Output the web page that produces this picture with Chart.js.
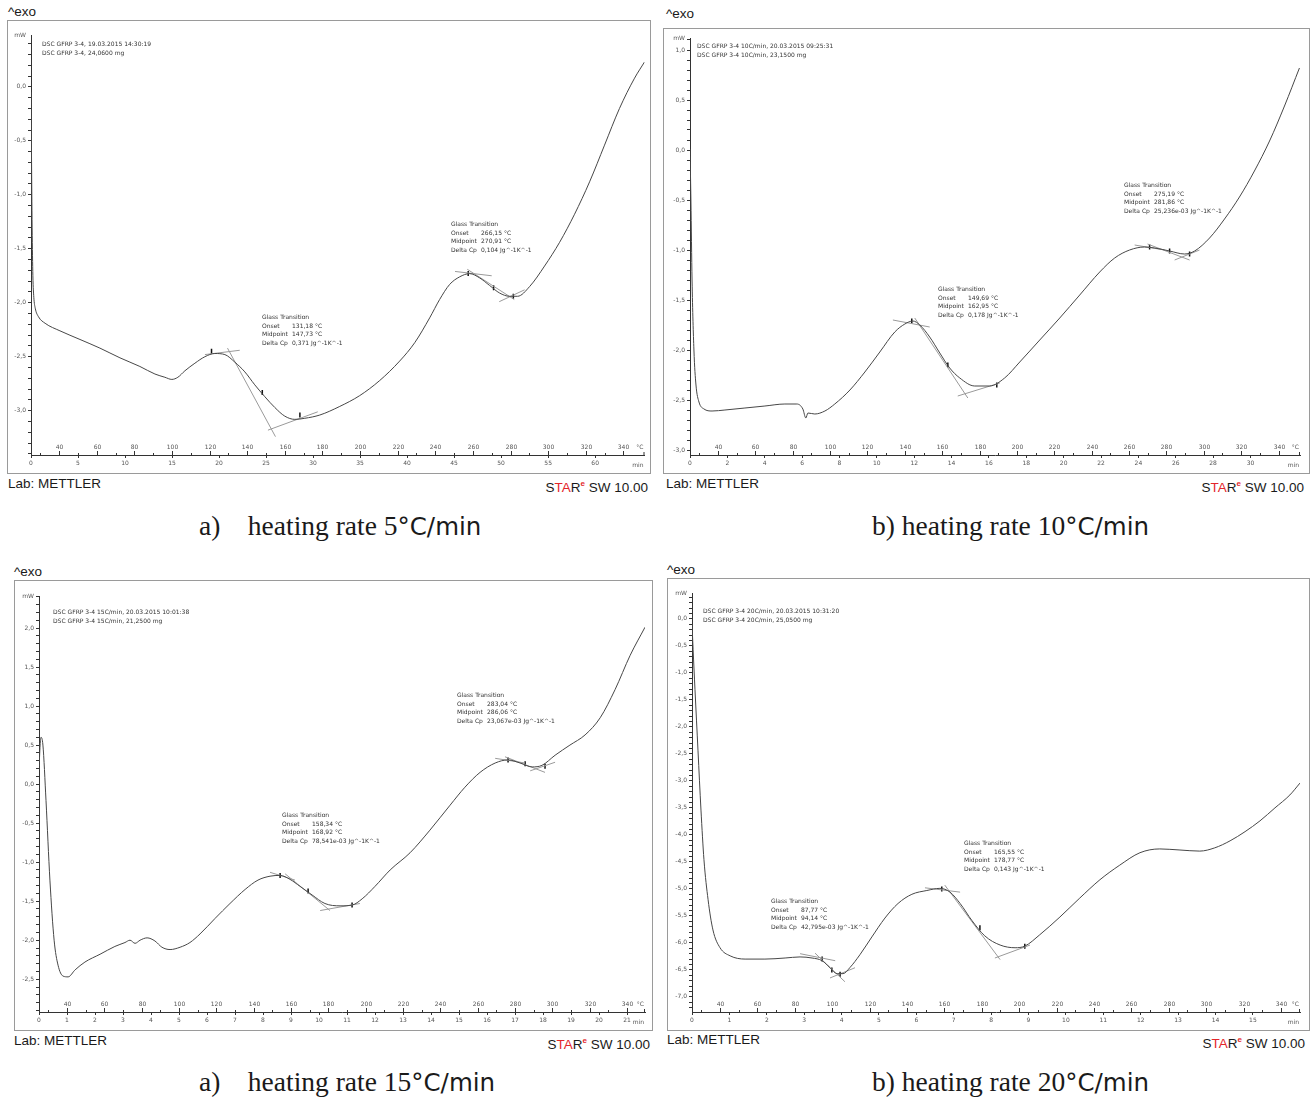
<!DOCTYPE html>
<html>
<head>
<meta charset="utf-8">
<script src="https://cdn.jsdelivr.net/npm/chart.js@4.4.1/dist/chart.umd.min.js"></script>
<style>
  body { margin:0; background:#fff; width:1316px; height:1100px; position:relative; overflow:hidden;
         font-family:"Liberation Sans", Arial, sans-serif; color:#1a1a1a; }
  .abs { position:absolute; white-space:nowrap; }
  .box { position:absolute; border:1px solid #9a9a9a; box-sizing:border-box; }
  canvas { position:absolute; }
  .big { font-size:13.5px; line-height:16px; }
  .star { font-size:13.5px; line-height:16px; text-align:right; }
  .star .r { color:#e3262b; }
  .star sup { color:#e3262b; font-size:8px; font-weight:bold; }
  .small { font-family:"DejaVu Sans", sans-serif; font-size:6px; line-height:8.5px; color:#333; }
  .small b { display:inline-block; width:30px; font-weight:normal; }
  .cap { font-family:"Liberation Serif", "Times New Roman", serif; font-size:27.5px; line-height:30px; white-space:pre; }
  .unit { font-family:"DejaVu Sans", "Noto Sans", "Liberation Sans", sans-serif; font-size:24.5px; }
</style>
</head>
<body>

<!-- frames -->
<div class="box" style="left:7px;top:20px;width:644px;height:454px"></div>
<div class="box" style="left:663px;top:28px;width:647px;height:446px"></div>
<div class="box" style="left:14px;top:580px;width:639px;height:451px"></div>
<div class="box" style="left:667px;top:578px;width:643px;height:453px"></div>

<canvas id="chartA" width="643" height="453" style="left:7px;top:20px"></canvas>
<canvas id="chartB" width="646" height="445" style="left:663px;top:28px"></canvas>
<canvas id="chartC" width="638" height="450" style="left:14px;top:580px"></canvas>
<canvas id="chartD" width="642" height="452" style="left:667px;top:578px"></canvas>

<!-- panel labels -->
<div class="abs big" style="left:8px;top:4px">^exo</div>
<div class="abs big" style="left:666px;top:6px">^exo</div>
<div class="abs big" style="left:14px;top:564px">^exo</div>
<div class="abs big" style="left:667px;top:562px">^exo</div>

<div class="abs big" style="left:8px;top:476px">Lab: METTLER</div>
<div class="abs big" style="left:666px;top:476px">Lab: METTLER</div>
<div class="abs big" style="left:14px;top:1033px">Lab: METTLER</div>
<div class="abs big" style="left:667px;top:1032px">Lab: METTLER</div>

<div class="abs star" style="right:668px;top:476px">S<span class="r">TA</span>R<sup>e</sup> SW 10.00</div>
<div class="abs star" style="right:12px;top:476px">S<span class="r">TA</span>R<sup>e</sup> SW 10.00</div>
<div class="abs star" style="right:666px;top:1033px">S<span class="r">TA</span>R<sup>e</sup> SW 10.00</div>
<div class="abs star" style="right:11px;top:1032px">S<span class="r">TA</span>R<sup>e</sup> SW 10.00</div>

<!-- headers -->
<div class="abs small" style="left:42px;top:40px">DSC GFRP 3-4, 19.03.2015 14:30:19<br>DSC GFRP 3-4, 24,0600 mg</div>
<div class="abs small" style="left:697px;top:42px">DSC GFRP 3-4 10C/min, 20.03.2015 09:25:31<br>DSC GFRP 3-4 10C/min, 23,1500 mg</div>
<div class="abs small" style="left:53px;top:608px">DSC GFRP 3-4 15C/min, 20.03.2015 10:01:38<br>DSC GFRP 3-4 15C/min, 21,2500 mg</div>
<div class="abs small" style="left:703px;top:607px">DSC GFRP 3-4 20C/min, 20.03.2015 10:31:20<br>DSC GFRP 3-4 20C/min, 25,0500 mg</div>

<!-- glass transition notes -->
<div class="abs small" style="left:262px;top:313px">Glass Transition<br><b>Onset</b>131,18 °C<br><b>Midpoint</b>147,73 °C<br><b>Delta Cp</b>0,371 Jg^-1K^-1</div>
<div class="abs small" style="left:451px;top:220px">Glass Transition<br><b>Onset</b>266,15 °C<br><b>Midpoint</b>270,91 °C<br><b>Delta Cp</b>0,104 Jg^-1K^-1</div>
<div class="abs small" style="left:938px;top:285px">Glass Transition<br><b>Onset</b>149,69 °C<br><b>Midpoint</b>162,95 °C<br><b>Delta Cp</b>0,178 Jg^-1K^-1</div>
<div class="abs small" style="left:1124px;top:181px">Glass Transition<br><b>Onset</b>275,19 °C<br><b>Midpoint</b>281,86 °C<br><b>Delta Cp</b>25,236e-03 Jg^-1K^-1</div>
<div class="abs small" style="left:282px;top:811px">Glass Transition<br><b>Onset</b>158,34 °C<br><b>Midpoint</b>168,92 °C<br><b>Delta Cp</b>78,541e-03 Jg^-1K^-1</div>
<div class="abs small" style="left:457px;top:691px">Glass Transition<br><b>Onset</b>283,04 °C<br><b>Midpoint</b>286,06 °C<br><b>Delta Cp</b>23,067e-03 Jg^-1K^-1</div>
<div class="abs small" style="left:771px;top:897px">Glass Transition<br><b>Onset</b>87,77 °C<br><b>Midpoint</b>94,14 °C<br><b>Delta Cp</b>42,795e-03 Jg^-1K^-1</div>
<div class="abs small" style="left:964px;top:839px">Glass Transition<br><b>Onset</b>165,55 °C<br><b>Midpoint</b>178,77 °C<br><b>Delta Cp</b>0,143 Jg^-1K^-1</div>

<!-- captions -->
<div class="abs cap" style="left:199px;top:511px">a)    heating rate 5<span class="unit">°C/min</span></div>
<div class="abs cap" style="left:872px;top:511px">b) heating rate 10<span class="unit">°C/min</span></div>
<div class="abs cap" style="left:199px;top:1067px">a)    heating rate 15<span class="unit">°C/min</span></div>
<div class="abs cap" style="left:872px;top:1067px">b) heating rate 20<span class="unit">°C/min</span></div>

<script>
// temperature labels on the upper side of the time axis (°C), same for all runs
const tempTicks = [40, 60, 80, 100, 120, 140, 160, 180, 200, 220, 240, 260, 280, 300, 320, 340];

// ---- a) 5 °C/min : time [min], heat flow [mW] ----
const timeA = [0, 0.05, 0.12, 0.2, 0.3, 0.45, 0.8, 1.5, 3.08, 5.21, 7.33, 9.46, 11.58, 13.18, 14.24, 14.98,
  15.62, 16.37, 17.43, 18.49, 19.55, 20.62, 21.68, 22.74, 23.8, 24.87, 25.93, 26.99, 28.06, 29.12, 30.71,
  32.84, 34.96, 37.09, 39.21, 40.81, 42.4, 43.46, 44.53, 45.59, 46.65, 47.72, 48.78, 49.84, 50.9, 51.75,
  53.03, 54.62, 56.22, 57.81, 59.41, 61.0, 62.59, 64.19, 65.25];
const mwA = [-0.05, -0.6, -1.3, -1.75, -1.95, -2.05, -2.13, -2.19, -2.26, -2.34, -2.42, -2.51, -2.59, -2.66, -2.69, -2.71,
  -2.69, -2.63, -2.56, -2.5, -2.47, -2.48, -2.55, -2.64, -2.76, -2.87, -2.97, -3.05, -3.08, -3.07, -3.04,
  -2.96, -2.86, -2.72, -2.54, -2.37, -2.14, -1.97, -1.83, -1.76, -1.73, -1.77, -1.84, -1.91, -1.94, -1.94,
  -1.85, -1.66, -1.44, -1.18, -0.88, -0.54, -0.2, 0.08, 0.23];
const tangentsA = [[18.5, -2.48, 22.2, -2.44], [20.9, -2.42, 26.0, -3.24], [25.2, -3.18, 30.5, -3.01],
  [45.1, -1.71, 49.0, -1.75], [46.4, -1.69, 51.4, -1.97], [49.8, -1.99, 52.5, -1.88]];
const markTimeA = [19.2, 24.6, 28.6, 46.5, 49.2, 51.3];
const markMwA = [-2.45, -2.83, -3.04, -1.73, -1.86, -1.94];
const timeTicksA = [0, 5, 10, 15, 20, 25, 30, 35, 40, 45, 50, 55, 60];

// ---- b) 10 °C/min ----
const timeB = [0, 0.05, 0.11, 0.21, 0.32, 0.48, 0.75, 1.18, 1.87, 2.94, 4.01, 5.08, 5.72, 6.04, 6.2, 6.31,
  6.68, 7.22, 7.75, 8.56, 9.36, 10.16, 10.96, 11.5, 11.93, 12.3, 12.83, 13.37, 13.9, 14.44, 15.24, 16.04,
  16.84, 17.65, 18.72, 19.79, 20.86, 21.93, 22.73, 23.53, 24.33, 24.87, 25.67, 26.47, 27.01, 27.81, 28.61,
  29.41, 30.21, 31.02, 31.82, 32.62];
const mwB = [0.01, -0.51, -1.3, -2.0, -2.35, -2.52, -2.59, -2.61, -2.6, -2.58, -2.56, -2.54, -2.54, -2.59, -2.68, -2.63,
  -2.64, -2.61, -2.54, -2.4, -2.22, -2.02, -1.82, -1.74, -1.71, -1.75, -1.87, -2.03, -2.18, -2.28, -2.36, -2.36,
  -2.28, -2.12, -1.9, -1.68, -1.45, -1.22, -1.08, -1.0, -0.97, -0.98, -1.01, -1.04, -1.01, -0.88, -0.69,
  -0.47, -0.21, 0.09, 0.44, 0.82];
const tangentsB = [[10.86, -1.7, 12.83, -1.77], [12.03, -1.68, 14.87, -2.48], [14.33, -2.46, 16.58, -2.33],
  [23.8, -0.95, 25.4, -1.0], [24.49, -0.94, 26.74, -1.1], [25.94, -1.1, 27.27, -1.0]];
const markTimeB = [11.87, 13.8, 16.42, 24.6, 25.67, 26.74];
const markMwB = [-1.71, -2.15, -2.35, -0.97, -1.01, -1.04];
const timeTicksB = [0, 2, 4, 6, 8, 10, 12, 14, 16, 18, 20, 22, 24, 26, 28, 30];

// ---- c) 15 °C/min ----
const timeC = [0, 0.04, 0.07, 0.14, 0.25, 0.39, 0.54, 0.68, 0.86, 1.04, 1.29, 1.64, 2.18, 2.71, 3.07, 3.25,
  3.43, 3.61, 3.86, 4.14, 4.39, 4.68, 5.04, 5.39, 5.75, 6.29, 6.82, 7.36, 7.82, 8.25, 8.61, 8.96, 9.32,
  9.75, 10.21, 10.75, 11.18, 11.54, 12.0, 12.54, 13.25, 13.96, 14.68, 15.21, 15.75, 16.29, 16.75, 17.18,
  17.61, 17.96, 18.43, 18.96, 19.5, 20.04, 20.57, 21.11, 21.64];
const mwC = [0.18, 0.5, 0.6, 0.5, -0.21, -1.23, -2.0, -2.32, -2.46, -2.47, -2.38, -2.28, -2.18, -2.08, -2.03, -2.0,
  -2.04, -2.0, -1.97, -2.01, -2.09, -2.12, -2.09, -2.03, -1.92, -1.72, -1.53, -1.35, -1.23, -1.18, -1.17, -1.22, -1.31,
  -1.42, -1.53, -1.56, -1.55, -1.47, -1.31, -1.1, -0.88, -0.59, -0.27, -0.04, 0.15, 0.27, 0.31, 0.27,
  0.22, 0.24, 0.37, 0.5, 0.63, 0.85, 1.21, 1.65, 2.01];
const tangentsC = [[8.25, -1.13, 9.14, -1.23], [8.79, -1.15, 10.39, -1.62], [10.04, -1.62, 11.46, -1.53],
  [16.29, 0.33, 17.36, 0.27], [16.64, 0.35, 18.07, 0.15], [17.54, 0.17, 18.43, 0.28]];
const markTimeC = [8.61, 9.61, 11.18, 16.75, 17.36, 18.07];
const markMwC = [-1.17, -1.37, -1.55, 0.31, 0.26, 0.23];
const timeTicksC = [0, 1, 2, 3, 4, 5, 6, 7, 8, 9, 10, 11, 12, 13, 14, 15, 16, 17, 18, 19, 20, 21];

// ---- d) 20 °C/min ----
const timeD = [0, 0.03, 0.08, 0.16, 0.24, 0.32, 0.43, 0.56, 0.75, 1.02, 1.42, 1.95, 2.49, 2.89, 3.21, 3.48,
  3.69, 3.88, 4.04, 4.22, 4.49, 4.81, 5.16, 5.51, 5.88, 6.28, 6.63, 6.9, 7.17, 7.49, 7.83, 8.24, 8.64, 8.9,
  9.3, 9.84, 10.37, 10.91, 11.44, 11.98, 12.51, 13.05, 13.58, 13.98, 14.39, 14.79, 15.19, 15.59, 15.99, 16.26];
const mwD = [-0.09, -0.57, -1.31, -2.43, -3.54, -4.46, -5.2, -5.76, -6.09, -6.24, -6.3, -6.3, -6.28, -6.26, -6.28, -6.33,
  -6.46, -6.57, -6.57, -6.46, -6.22, -5.89, -5.54, -5.27, -5.1, -5.03, -4.99, -5.06, -5.27, -5.59, -5.87, -6.04, -6.09, -6.06,
  -5.85, -5.52, -5.17, -4.83, -4.56, -4.33, -4.26, -4.28, -4.3, -4.24, -4.11, -3.94, -3.74, -3.5, -3.26, -3.04];
const tangentsD = [[2.89, -6.2, 3.83, -6.33], [3.29, -6.19, 4.09, -6.72], [3.69, -6.65, 4.36, -6.46],
  [6.23, -4.98, 7.17, -5.06], [6.76, -4.93, 8.24, -6.31], [8.1, -6.28, 9.04, -6.04]];
const markTimeD = [3.48, 3.74, 3.96, 6.68, 7.7, 8.9];
const markMwD = [-6.3, -6.5, -6.58, -5.0, -5.72, -6.06];
const timeTicksD = [0, 1, 2, 3, 4, 5, 6, 7, 8, 9, 10, 11, 12, 13, 14, 15];

const START_TEMP = 25; // °C at t = 0
const tickFont = { family: "DejaVu Sans", size: 6 };

// y tick labels in the STARe style: "-0,5"
function mwLabel(v) {
  if (Math.abs(v * 2 - Math.round(v * 2)) > 1e-6) return "";
  const r = Math.round(v * 2) / 2;
  return (r === 0 ? 0 : r).toFixed(1).replace(".", ",");
}

// temperature scale drawn on top of the time axis, plus unit labels
const tempAxis = {
  id: "tempAxis",
  afterDraw(chart, args, opts) {
    const { ctx, chartArea: a, scales: { x } } = chart;
    ctx.save();
    ctx.strokeStyle = "#333";
    ctx.fillStyle = "#555";
    ctx.lineWidth = 1;
    ctx.font = '6px "DejaVu Sans"';
    ctx.textAlign = "center";
    ctx.textBaseline = "bottom";
    for (let T = 30; T <= 350; T += 10) {
      const px = Math.round(x.getPixelForValue((T - START_TEMP) / opts.rate)) + 0.5;
      if (px < a.left + 1 || px > a.right - 4) continue;
      const major = tempTicks.includes(T);
      ctx.beginPath();
      ctx.moveTo(px, a.bottom - (major ? 4 : 2));
      ctx.lineTo(px, a.bottom + 1);
      ctx.stroke();
      if (major) ctx.fillText(String(T), px, a.bottom - 5);
    }
    ctx.textAlign = "right";
    ctx.fillText("°C", a.right - 1, a.bottom - 5);
    ctx.textBaseline = "top";
    ctx.fillText("min", a.right - 1, a.bottom + 7);
    ctx.textBaseline = "middle";
    ctx.fillText("mW", a.left - 5, a.top);
    // arrow end of the time axis
    ctx.beginPath();
    ctx.moveTo(a.right - 0.5, a.bottom - 3);
    ctx.lineTo(a.right - 0.5, a.bottom + 1);
    ctx.stroke();
    ctx.restore();
  }
};

function makePanel(id, o) {
  const sets = [{
    data: o.t.map((t, i) => ({ x: t, y: o.mw[i] })),
    showLine: true, borderColor: "#474747", borderWidth: 1, pointRadius: 0,
    cubicInterpolationMode: "monotone"
  }];
  o.tangents.forEach(s => sets.push({
    data: [{ x: s[0], y: s[1] }, { x: s[2], y: s[3] }],
    showLine: true, borderColor: "#9a9a9a", borderWidth: 1, pointRadius: 0
  }));
  sets.push({
    data: o.markT.map((t, i) => ({ x: t, y: o.markMw[i] })),
    showLine: false, pointStyle: "line", rotation: 90, pointRadius: 2.5,
    borderColor: "#111", borderWidth: 1.5
  });

  return new Chart(document.getElementById(id), {
    type: "scatter",
    data: { datasets: sets },
    options: {
      responsive: false,
      animation: false,
      devicePixelRatio: 1,
      events: [],
      layout: { padding: { top: o.padTop, right: o.padRight, left: 0, bottom: 0 } },
      plugins: { legend: { display: false }, tooltip: { enabled: false }, tempAxis: { rate: o.rate } },
      scales: {
        x: {
          type: "linear", min: 0, max: o.xMax,
          afterFit(s) { s.height = 18; },
          afterBuildTicks(s) { s.ticks = o.timeTicks.map(v => ({ value: v })); },
          grid: { drawOnChartArea: false, tickLength: 3, color: "#333" },
          border: { color: "#333" },
          ticks: { font: tickFont, color: "#555", padding: 2, maxRotation: 0, autoSkip: false }
        },
        y: {
          min: o.yMin, max: o.yMax,
          afterFit(s) { s.width = o.yW; },
          grid: { drawOnChartArea: false, tickLength: 3, color: "#333" },
          border: { color: "#333" },
          ticks: { stepSize: 0.1, includeBounds: false, autoSkip: false, font: tickFont,
                   color: "#555", padding: 2, callback: v => mwLabel(v) }
        }
      }
    },
    plugins: [tempAxis]
  });
}

makePanel("chartA", { t: timeA, mw: mwA, tangents: tangentsA, markT: markTimeA, markMw: markMwA,
  timeTicks: timeTicksA, rate: 5, xMax: 65.25, yMin: -3.41, yMax: 0.48, yW: 24, padTop: 15, padRight: 5 });
makePanel("chartB", { t: timeB, mw: mwB, tangents: tangentsB, markT: markTimeB, markMw: markMwB,
  timeTicks: timeTicksB, rate: 10, xMax: 32.65, yMin: -3.05, yMax: 1.12, yW: 27, padTop: 10, padRight: 9 });
makePanel("chartC", { t: timeC, mw: mwC, tangents: tangentsC, markT: markTimeC, markMw: markMwC,
  timeTicks: timeTicksC, rate: 15, xMax: 21.64, yMin: -2.92, yMax: 2.41, yW: 25, padTop: 16, padRight: 7 });
makePanel("chartD", { t: timeD, mw: mwD, tangents: tangentsD, markT: markTimeD, markMw: markMwD,
  timeTicks: timeTicksD, rate: 20, xMax: 16.26, yMin: -7.28, yMax: 0.48, yW: 25, padTop: 15, padRight: 9 });
</script>
</body>
</html>
